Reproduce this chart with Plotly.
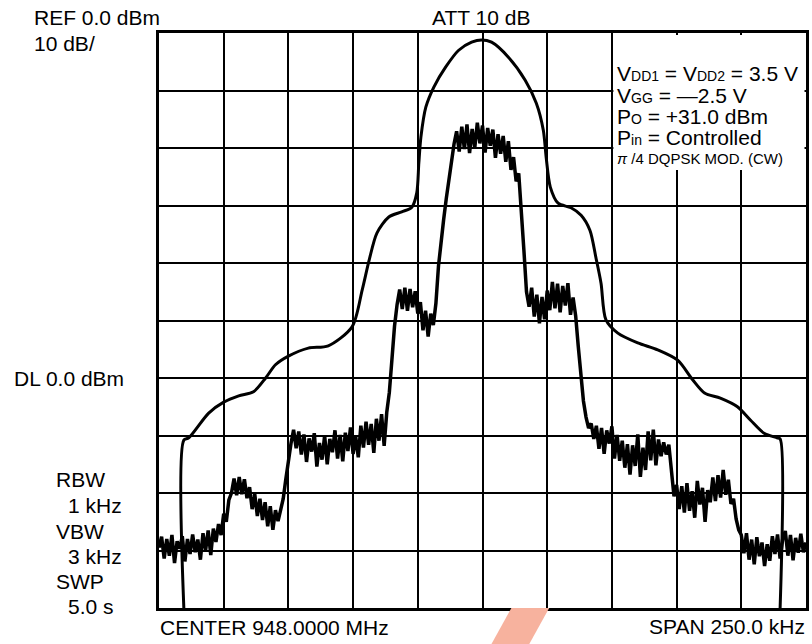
import plotly.graph_objects as go

# ---------------- data ----------------
# Frequency offset from center (kHz), 25 kHz/div, span 250 kHz
# Envelope (smooth upper curve), dB relative to REF 0.0 dBm
env_f = [-115.4, -115.4, -113.5, -105.8, -100.0, -94.2, -88.5, -83.8, -80.0, -75.0,
         -67.3, -59.6, -50.4, -46.5, -43.8, -40.8, -36.2, -31.2, -27.3, -25.4,
         -24.6, -23.8, -21.9, -18.8, -14.2, -9.2, -4.2, -0.4, 3.5, 10.0,
         16.5, 20.8, 23.5, 24.6, 26.2, 29.2, 34.2, 38.1, 41.5, 43.8,
         45.8, 47.7, 52.3, 60.0, 67.7, 75.4, 81.2, 85.8, 91.9, 98.5,
         103.5, 108.8, 113.8, 115.0, 115.0]
env_db = [-100.0, -70.8, -70.4, -66.1, -64.2, -63.1, -62.4, -60.0, -57.7, -56.2,
          -54.8, -54.4, -51.1, -44.7, -39.5, -34.8, -32.0, -31.1, -30.3, -27.8,
          -22.6, -18.1, -12.9, -9.4, -5.9, -3.0, -1.6, -1.2, -1.6, -4.2,
          -8.2, -12.2, -16.9, -21.6, -26.8, -29.6, -30.4, -31.7, -34.3, -39.0,
          -43.5, -49.9, -52.2, -53.9, -55.1, -56.9, -60.3, -62.6, -63.5, -65.0,
          -67.3, -69.6, -70.4, -70.6, -100.0]

# Modulated spectrum trace, one sample per kHz from -125 to +125 kHz
trace_f = list(range(-125, 126))
trace_db = [
    # -125 .. -103
    -89.5, -87.6, -91.4, -88.0, -90.9, -87.3, -92.2, -88.4, -89.7, -87.5,
    -91.9, -88.0, -90.6, -87.2, -90.3, -88.1, -91.6, -87.0, -90.0, -86.5,
    -90.8, -86.2, -88.5,
    # -102 .. -97
    -85.4, -87.3, -83.6, -85.0, -81.2, -80.0,
    # -96 .. -91
    -77.5, -80.4, -77.2, -80.2, -77.6, -80.9,
    # -90 .. -78
    -79.0, -82.8, -80.2, -84.0, -81.0, -84.7, -81.6, -85.8, -82.3, -86.4,
    -83.0, -84.9, -82.6,
    # -77 .. -74
    -81.0, -77.6, -74.0, -71.4,
    # -73 .. -37
    -69.0, -72.2, -69.3, -73.3, -69.8, -74.6, -70.5, -72.8, -69.6, -75.4,
    -71.3, -74.2, -70.0, -75.0, -70.6, -72.9, -69.1, -74.0, -69.9, -74.5,
    -69.5, -72.7, -68.6, -73.2, -70.2, -73.8, -68.3, -72.1, -67.6, -71.6,
    -68.0, -73.0, -67.1, -70.9, -66.3, -71.8, -66.0,
    # -36 .. -33
    -62.5, -56.8, -51.0, -47.2,
    # -32 .. -18
    -44.6, -48.0, -44.3, -48.3, -44.5, -47.7, -44.9, -48.8, -46.8, -51.7,
    -48.3, -52.8, -48.8, -50.8, -47.0,
    # -17 .. -11
    -40.5, -36.0, -32.4, -28.8, -25.6, -22.0, -19.3,
    # -10 .. 11
    -17.1, -20.6, -16.3, -20.2, -15.9, -20.9, -16.7, -20.0, -15.6, -19.2,
    -16.1, -20.8, -16.5, -19.6, -16.8, -21.7, -17.6, -21.0, -17.9, -22.4,
    -18.8, -23.8,
    # 12 .. 17
    -21.6, -25.8, -24.4, -30.2, -37.8, -45.0,
    # 18 .. 36
    -47.6, -44.3, -49.3, -45.5, -50.5, -45.9, -49.8, -44.8, -48.2, -43.3,
    -47.9, -43.6, -48.6, -44.0, -47.4, -43.5, -49.0, -46.0, -49.2,
    # 37 .. 42
    -54.5, -60.2, -64.0, -66.8, -68.7, -67.9,
    # 43 .. 72
    -70.6, -68.3, -72.3, -68.7, -73.2, -69.1, -71.4, -68.4, -74.0, -69.9,
    -74.4, -70.9, -75.6, -71.5, -76.8, -71.7, -75.3, -69.8, -77.2, -72.1,
    -76.0, -69.3, -74.3, -69.0, -75.2, -70.7, -73.6, -71.2, -73.3, -71.6,
    # 73 .. 74
    -77.0, -80.6,
    # 75 .. 97
    -78.6, -82.8, -78.8, -83.4, -78.3, -83.1, -79.7, -84.3, -77.9, -82.0,
    -79.1, -85.0, -79.5, -81.6, -77.3, -81.4, -76.9, -80.8, -76.0, -80.3,
    -77.7, -81.9, -81.0,
    # 98 .. 99
    -84.5, -86.4,
    # 100 .. 125
    -87.3, -90.5, -87.0, -91.6, -88.1, -92.4, -87.7, -91.0, -88.6, -92.7,
    -88.9, -91.8, -87.5, -90.6, -87.2, -91.4, -88.0, -86.6, -90.9, -87.3,
    -91.7, -87.8, -90.4, -87.1, -90.3, -88.6,
]

left_labels = ["REF 0.0 dBm", "10 dB/", "DL 0.0 dBm", "RBW", "1 kHz", "VBW", "3 kHz", "SWP", "5.0 s"]
top_label = "ATT 10 dB"
bottom_left_label = "CENTER 948.0000 MHz"
bottom_right_label = "SPAN 250.0 kHz"
cond_lines = [
    "V<span style='font-size:14px'>DD1</span> = V<span style='font-size:14px'>DD2</span> = 3.5 V",
    "V<span style='font-size:14px'>GG</span> = \u20142.5 V",
    "P<span style='font-size:14px'>O</span> = +31.0 dBm",
    "P<span style='font-size:14px'>in</span> = Controlled",
    "<i>\u03c0</i> /4 DQPSK MOD. (CW)",
]

# ---------------- figure ----------------
W, H = 812, 644
L, R, T, B = 159, 3, 33, 36
FONT = "Liberation Sans, Arial, Helvetica, sans-serif"


def px(x):
    return (x - L) / (W - L - R)


def py(y):
    return (H - B - y) / (H - T - B)


fig = go.Figure()
fig.add_trace(go.Scatter(x=env_f, y=env_db, mode="lines",
                         line=dict(color="black", width=3.0, shape="spline", smoothing=0.8),
                         hoverinfo="skip", showlegend=False))
fig.add_trace(go.Scatter(x=trace_f, y=trace_db, mode="lines",
                         line=dict(color="black", width=3.5),
                         hoverinfo="skip", showlegend=False))

ann = []


def add_text(text, x, y, size=21, xanchor="left"):
    ann.append(dict(text=text, x=px(x), y=py(y), xref="paper", yref="paper",
                    xanchor=xanchor, yanchor="middle", showarrow=False,
                    font=dict(family=FONT, size=size, color="black")))


add_text(left_labels[0], 31, 17)
add_text(left_labels[1], 31, 44)
add_text(left_labels[2], 11, 378)
add_text(left_labels[3], 54, 479)
add_text(left_labels[4], 66, 505)
add_text(left_labels[5], 54, 531)
add_text(left_labels[6], 66, 556)
add_text(left_labels[7], 54, 581)
add_text(left_labels[8], 66, 606)
add_text(top_label, 482, 17, xanchor="center")
add_text(bottom_left_label, 158, 627)
add_text(bottom_right_label, 810, 626, xanchor="right")
for i, (line, yy) in enumerate(zip(cond_lines, [73, 95, 117, 138, 158])):
    add_text(line, 617, yy, size=21 if i < 4 else 15)

shapes = [
    # white panel behind the measurement conditions (grid hidden there)
    dict(type="rect", xref="paper", yref="paper",
         x0=px(615.5), x1=px(807.5), y0=py(170), y1=py(35),
         fillcolor="white", line=dict(width=0), layer="above"),
    # orange watermark stroke below the graticule
    dict(type="path", xref="paper", yref="paper",
         path=f"M {px(513)} {py(608)} L {px(551)} {py(608)} L {px(531)} {py(644)} L {px(493)} {py(644)} Z",
         fillcolor="#f7b29e", line=dict(width=0), layer="above"),
]

fig.update_layout(
    width=W, height=H,
    margin=dict(l=L, r=R, t=T, b=B, pad=0),
    paper_bgcolor="white", plot_bgcolor="white",
    annotations=ann,
    shapes=shapes,
    xaxis=dict(range=[-125, 125], dtick=25, tick0=0, showticklabels=False, ticks="",
               showgrid=True, gridcolor="black", gridwidth=2, zeroline=False,
               showline=True, linecolor="black", linewidth=3, mirror=True, fixedrange=True),
    yaxis=dict(range=[-100, 0], dtick=10, tick0=0, showticklabels=False, ticks="",
               showgrid=True, gridcolor="black", gridwidth=2, zeroline=False,
               showline=True, linecolor="black", linewidth=3, mirror=True, fixedrange=True),
)

fig.write_html("out.html", config={"displayModeBar": False},
               post_script="document.body.style.margin='0px';document.body.style.overflow='hidden';")
